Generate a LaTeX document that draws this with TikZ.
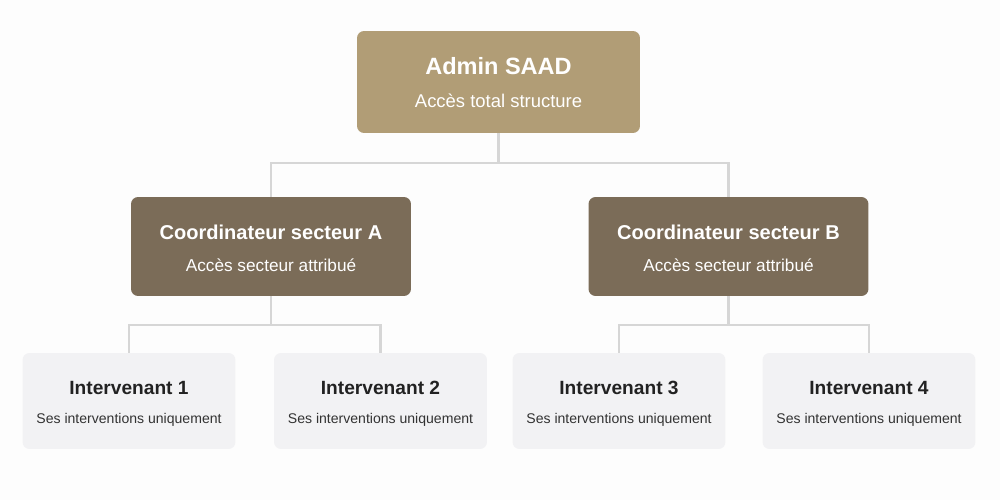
\documentclass[tikz,border=0pt]{standalone}
\usepackage{fontspec}
\setmainfont{Liberation Sans}
\usetikzlibrary{positioning}

\definecolor{pagebg}{HTML}{FDFDFD}
\definecolor{adminclr}{HTML}{B19D76}
\definecolor{coordclr}{HTML}{7B6C58}
\definecolor{intclr}{HTML}{F2F2F4}
\definecolor{linkclr}{HTML}{D6D6D6}
\definecolor{darktext}{HTML}{222222}
\definecolor{subtext}{HTML}{333333}

\begin{document}
\begin{tikzpicture}[
  x=0.02cm, y=-0.02cm,
  adminbox/.style={fill=adminclr, rounded corners=4pt, minimum width=5.66cm, minimum height=2.04cm},
  coordbox/.style={fill=coordclr, rounded corners=4pt, minimum width=5.6cm, minimum height=1.98cm},
  intbox/.style={fill=intclr, rounded corners=4pt, minimum width=4.26cm, minimum height=1.92cm},
  txt/.style={inner sep=0pt, anchor=base},
  admintitle/.style={txt, text=white, font=\fontsize{13.4}{16}\selectfont\bfseries},
  adminsub/.style={txt, text=white, font=\fontsize{10.5}{12}\selectfont},
  coordtitle/.style={txt, text=white, font=\fontsize{11.4}{14}\selectfont\bfseries},
  coordsub/.style={txt, text=white, font=\fontsize{9.8}{12}\selectfont},
  inttitle/.style={txt, text=darktext, font=\fontsize{10.9}{13}\selectfont\bfseries},
  intsub/.style={txt, text=subtext, font=\fontsize{8}{10}\selectfont},
  link/.style={draw=linkclr, line width=1.3pt}
]
  %------------------------------------------------------------
  %  CANVAS
  %------------------------------------------------------------
  \fill[pagebg] (0,0) rectangle (1000,500);
  \useasboundingbox (0,0) rectangle (1000,500);

  %------------------------------------------------------------
  %  BOXES
  %------------------------------------------------------------
  \node[adminbox] (adm) at (498.5,82)  {};
  \node[coordbox] (coA) at (271,246.5) {};
  \node[coordbox] (coB) at (728.5,246.5) {};
  \node[intbox]   (in1) at (129,401)   {};
  \node[intbox]   (in2) at (380.5,401) {};
  \node[intbox]   (in3) at (619,401)   {};
  \node[intbox]   (in4) at (869,401)   {};

  %------------------------------------------------------------
  %  CONNECTORS
  %------------------------------------------------------------
  \coordinate (busTop) at (498.5,163);
  \coordinate (busA)   at (271,325);
  \coordinate (busB)   at (728.5,325);

  \draw[link] (adm.south) -- (busTop) -| (coA.north);
  \draw[link] (busTop) -| (coB.north);
  \draw[link] (coA.south) -- (busA) -| (in1.north);
  \draw[link] (busA) -| (in2.north);
  \draw[link] (coB.south) -- (busB) -| (in3.north);
  \draw[link] (busB) -| (in4.north);

  %------------------------------------------------------------
  %  ADMIN
  %------------------------------------------------------------
  \node[admintitle] (admT) at (498.5,74)  {Admin SAAD};
  \node[adminsub]   (admS) at (498.5,108) {Accès total structure};

  %------------------------------------------------------------
  %  COORDINATEURS
  %------------------------------------------------------------
  \node[coordtitle] (coAT) at (271,239)   {Coordinateur secteur A};
  \node[coordsub]   (coAS) at (271,271)   {Accès secteur attribué};
  \node[coordtitle] (coBT) at (728.5,239) {Coordinateur secteur B};
  \node[coordsub]   (coBS) at (728.5,271) {Accès secteur attribué};

  %------------------------------------------------------------
  %  INTERVENANTS
  %------------------------------------------------------------
  \foreach \n/\x in {1/129, 2/380.5, 3/619, 4/869} {
    \node[inttitle] (in\n T) at (\x,394) {Intervenant \n};
    \node[intsub]   (in\n S) at (\x,423) {Ses interventions uniquement};
  }

\end{tikzpicture}
\end{document}
